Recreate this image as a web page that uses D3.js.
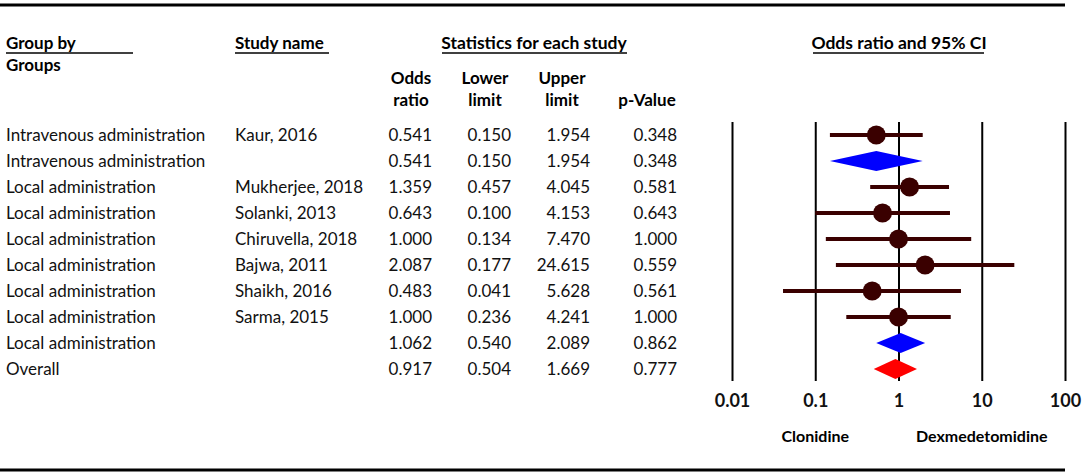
<!DOCTYPE html>
<html>
<head>
<meta charset="utf-8">
<script src="https://cdn.jsdelivr.net/npm/d3@7"></script>
<style>
  body { margin: 0; background: #fff; }
  svg { display: block; font-family: Lato, "Open Sans", sans-serif; }
  .hd { font-weight: bold; }
</style>
</head>
<body>
<svg id="chart" width="1084" height="476"></svg>
<script>
// rows of the forest plot, top to bottom
let groups = [
    "Intravenous administration", "Intravenous administration",
    "Local administration", "Local administration", "Local administration",
    "Local administration", "Local administration", "Local administration",
    "Local administration", "Overall"
];
let studies = ["Kaur, 2016", "", "Mukherjee, 2018", "Solanki, 2013", "Chiruvella, 2018",
    "Bajwa, 2011", "Shaikh, 2016", "Sarma, 2015", "", ""];
let oddsRatio = [0.541, 0.541, 1.359, 0.643, 1.000, 2.087, 0.483, 1.000, 1.062, 0.917];
let lowerLimit = [0.150, 0.150, 0.457, 0.100, 0.134, 0.177, 0.041, 0.236, 0.540, 0.504];
let upperLimit = [1.954, 1.954, 4.045, 4.153, 7.470, 24.615, 5.628, 4.241, 2.089, 1.669];
let pValue = [0.348, 0.348, 0.581, 0.643, 1.000, 0.559, 0.561, 1.000, 0.862, 0.777];
// study = dot + CI, subtotal = blue diamond, overall = red diamond
let rowType = ["study", "subtotal", "study", "study", "study", "study", "study", "study", "subtotal", "overall"];

let axisTicks = [0.01, 0.1, 1, 10, 100];
let favours = [{ label: "Clonidine", at: 0.1 }, { label: "Dexmedetomidine", at: 10 }];

let svg = d3.select("#chart");

let rows = groups.map((g, i) => ({
    i: i, group: g, study: studies[i], or: oddsRatio[i], lo: lowerLimit[i],
    hi: upperLimit[i], p: pValue[i], type: rowType[i]
}));

let x = d3.scaleLog().domain([0.01, 100]).range([732, 1065]);
let y = d3.scalePoint().domain(d3.range(rows.length)).range([135, 369]);

let fmt = d3.format(".3f");

//top and bottom rules
svg.append("line").attr("x1", 0).attr("x2", 1065).attr("y1", 5).attr("y2", 5)
    .attr("stroke", "#000").attr("stroke-width", 3);
svg.append("line").attr("x1", 0).attr("x2", 1065).attr("y1", 470).attr("y2", 470)
    .attr("stroke", "#000").attr("stroke-width", 3);

//headers
let fs = 17;
function header(txt, xx, yy, anchor, size) {
    return svg.append("text").attr("class", "hd")
        .attr("x", xx).attr("y", yy).attr("dy", "0.35em")
        .attr("text-anchor", anchor || "start")
        .attr("font-size", size || fs)
        .text(txt);
}
function underline(x1, x2, yy) {
    svg.append("line").attr("x1", x1).attr("x2", x2).attr("y1", yy).attr("y2", yy)
        .attr("stroke", "#000").attr("stroke-width", 1.3);
}

header("Group by", 6, 43); underline(6, 133, 53);
header("Groups", 6, 65);
header("Study name", 235, 43); underline(235, 329, 53);
header("Statistics for each study", 534, 43, "middle", 17.5); underline(442, 627, 53);
header("Odds ratio and 95% CI", 899, 43, "middle", 17.5); underline(813, 984, 53);

header("Odds", 411, 78, "middle"); header("ratio", 411, 100, "middle");
header("Lower", 485, 78, "middle"); header("limit", 485, 100, "middle");
header("Upper", 562, 78, "middle"); header("limit", 562, 100, "middle");
header("p-Value", 647, 100, "middle");

//table columns
let cols = [
    { key: "group", x: 6, anchor: "start", f: d => d.group },
    { key: "study", x: 235, anchor: "start", f: d => d.study },
    { key: "or", x: 432, anchor: "end", f: d => fmt(d.or) },
    { key: "lo", x: 511, anchor: "end", f: d => fmt(d.lo) },
    { key: "hi", x: 590, anchor: "end", f: d => fmt(d.hi) },
    { key: "p", x: 677, anchor: "end", f: d => fmt(d.p) }
];

cols.forEach(c => {
    svg.append("g").selectAll("text")
        .data(rows)
        .enter()
        .append("text")
        .attr("x", c.x)
        .attr("y", d => y(d.i))
        .attr("dy", "0.35em")
        .attr("text-anchor", c.anchor)
        .attr("font-size", fs)
        .attr("fill", "#111")
        .text(c.f);
});

//axis with vertical reference lines
let axisY = 381;
let axis = svg.append("g")
    .attr("transform", `translate(0,${axisY})`)
    .call(d3.axisBottom(x)
        .tickValues(axisTicks)
        .tickSize(-(axisY - 122))
        .tickPadding(13)
        .tickFormat(d3.format("~g")));

axis.select(".domain").remove();
axis.selectAll(".tick line").attr("stroke", "#000").attr("stroke-width", 2);
axis.selectAll(".tick text")
    .attr("font-size", 18)
    .attr("font-weight", "bold")
    .attr("font-family", "Lato, sans-serif")
    .attr("fill", "#111");

svg.append("g").selectAll("text")
    .data(favours)
    .enter()
    .append("text")
    .attr("class", "hd")
    .attr("x", d => x(d.at))
    .attr("y", 436)
    .attr("dy", "0.35em")
    .attr("text-anchor", "middle")
    .attr("font-size", 16)
    .text(d => d.label);

//confidence intervals
let studyRows = rows.filter(d => d.type === "study");
let marker = "#3a0000";

svg.append("g").selectAll("line")
    .data(studyRows)
    .enter()
    .append("line")
    .attr("x1", d => x(d.lo))
    .attr("x2", d => x(d.hi))
    .attr("y1", d => y(d.i))
    .attr("y2", d => y(d.i))
    .attr("stroke", marker)
    .attr("stroke-width", 4);

svg.append("g").selectAll("circle")
    .data(studyRows)
    .enter()
    .append("circle")
    .attr("cx", d => x(d.or))
    .attr("cy", d => y(d.i))
    .attr("r", 9.5)
    .attr("fill", marker);

//summary diamonds
let diamonds = rows.filter(d => d.type !== "study");
svg.append("g").selectAll("path")
    .data(diamonds)
    .enter()
    .append("path")
    .attr("d", d => {
        let cy = y(d.i), h = 10;
        return `M${x(d.lo)},${cy}L${x(d.or)},${cy - h}L${x(d.hi)},${cy}L${x(d.or)},${cy + h}Z`;
    })
    .attr("fill", d => d.type === "overall" ? "#ff0000" : "#0000ff");
</script>
</body>
</html>
